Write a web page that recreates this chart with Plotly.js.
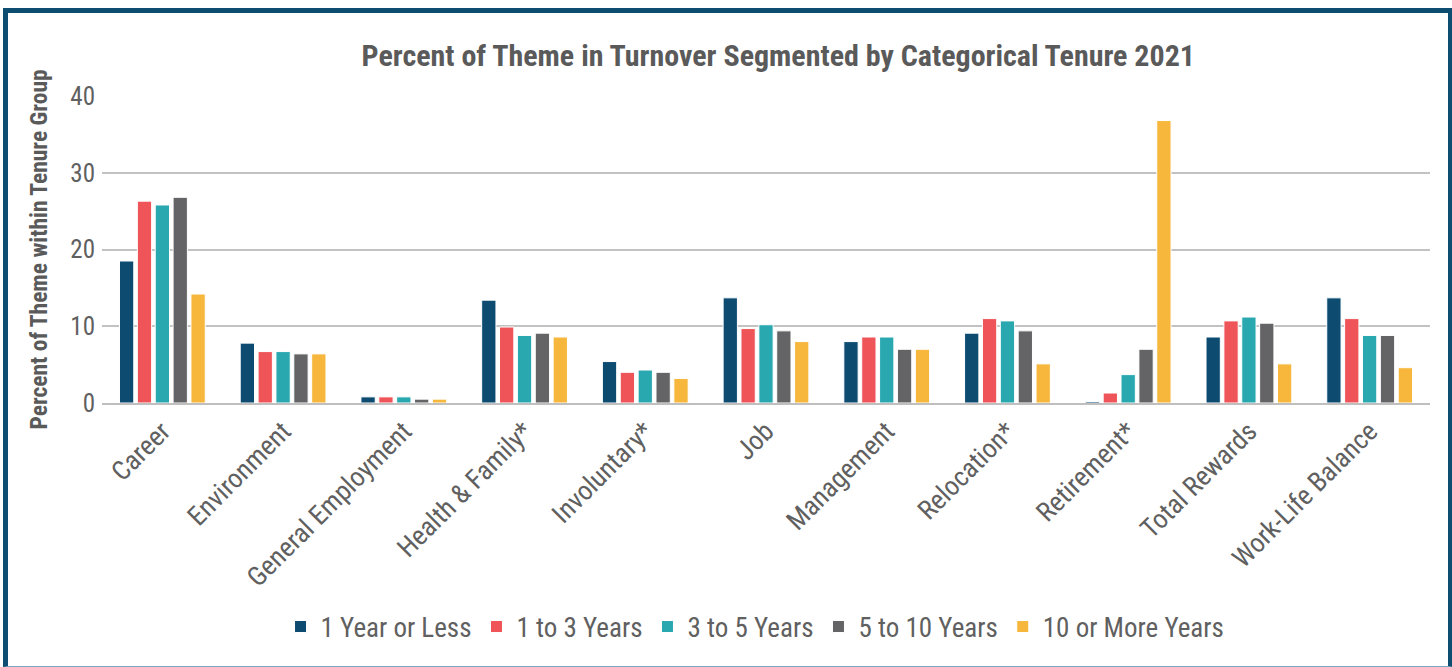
<!DOCTYPE html>
<html>
<head>
<meta charset="utf-8">
<script src="https://cdn.plot.ly/plotly-3.0.1.min.js"></script>
<style>
  html, body { margin: 0; padding: 0; background: #fff; }
  #chart { position: absolute; left: 0; top: 0; width: 1452px; height: 667px; }
  #frame { position: absolute; left: 3px; top: 8px; width: 1440px; height: 653px;
           border-top: 5px solid #0e4d72; border-left: 5px solid #0e4d72; border-right: 5px solid #0e4d72;
           border-bottom: 1px solid #7fa6bf; pointer-events: none; }
</style>
</head>
<body>
<div id="chart"></div>
<div id="frame"></div>
<script>
const categories = ["Career", "Environment", "General Employment", "Health & Family*", "Involuntary*", "Job", "Management", "Relocation*", "Retirement*", "Total Rewards", "Work-Life Balance"];
const seriesNames = ["1 Year or Less", "1 to 3 Years", "3 to 5 Years", "5 to 10 Years", "10 or More Years"];
const v1YearOrLess = [18.5, 7.8, 0.8, 13.4, 5.4, 13.7, 8.0, 9.1, 0.2, 8.6, 13.7];
const v1to3 = [26.3, 6.7, 0.8, 9.9, 4.0, 9.7, 8.6, 11.0, 1.3, 10.7, 11.0];
const v3to5 = [25.8, 6.7, 0.8, 8.8, 4.3, 10.2, 8.6, 10.7, 3.7, 11.2, 8.8];
const v5to10 = [26.8, 6.4, 0.5, 9.1, 4.0, 9.4, 7.0, 9.4, 7.0, 10.4, 8.8];
const v10plus = [14.2, 6.4, 0.5, 8.6, 3.2, 8.0, 7.0, 5.1, 36.8, 5.1, 4.6];
const yTicks = [0, 10, 20, 30, 40];
const colors = ["#0d4b71", "#ef5558", "#2aa8b0", "#646466", "#f6b73c"];

const values = [v1YearOrLess, v1to3, v3to5, v5to10, v10plus];
const font = "'Roboto Condensed', 'Liberation Sans Narrow', 'DejaVu Sans Condensed', Roboto, sans-serif";

const traces = values.map((v, i) => ({
  type: "bar",
  name: seriesNames[i],
  x: categories,
  y: v,
  marker: { color: colors[i], line: { color: "#ffffff", width: 1 } },
  hoverinfo: "x+y+name"
}));

const layout = {
  width: 1452, height: 667,
  margin: { l: 102, r: 22, t: 96, b: 264 },
  paper_bgcolor: "#ffffff", plot_bgcolor: "#ffffff",
  font: { family: font, color: "#606060" },
  barmode: "group",
  bargap: 0.26,
  bargroupgap: 0.2,
  title: {
    text: "<b>Percent of Theme in Turnover Segmented by Categorical Tenure 2021</b>",
    font: { family: font, size: 30, color: "#5a5a5a" },
    x: 0.536, xref: "container", xanchor: "center",
    y: 0.9175, yref: "container", yanchor: "middle"
  },
  xaxis: {
    type: "category",
    tickangle: -45,
    tickfont: { family: font, size: 27, color: "#606060" },
    showgrid: false,
    showline: true, linecolor: "#bfbfbf", linewidth: 1.5,
    ticks: "", automargin: false
  },
  yaxis: {
    range: [0, 40],
    tickvals: yTicks,
    tickfont: { family: font, size: 25, color: "#606060" },
    showgrid: true, gridcolor: "#c2c2c2", gridwidth: 1.5,
    zeroline: false, showline: false, ticks: "",
    ticklabelstandoff: 6,
    automargin: false,
    title: { text: "<b>Percent of Theme within Tenure Group</b>", font: { family: font, size: 23.5, color: "#5a5a5a" }, standoff: 16 }
  },
  legend: {
    orientation: "h",
    x: 0.52, xref: "container", xanchor: "center",
    y: 0.06, yref: "container", yanchor: "middle",
    font: { family: font, size: 27, color: "#606060" },
    itemwidth: 30,
    traceorder: "normal"
  },
  showlegend: true
};

Plotly.newPlot("chart", traces, layout, { displayModeBar: false, responsive: false });
</script>
</body>
</html>
